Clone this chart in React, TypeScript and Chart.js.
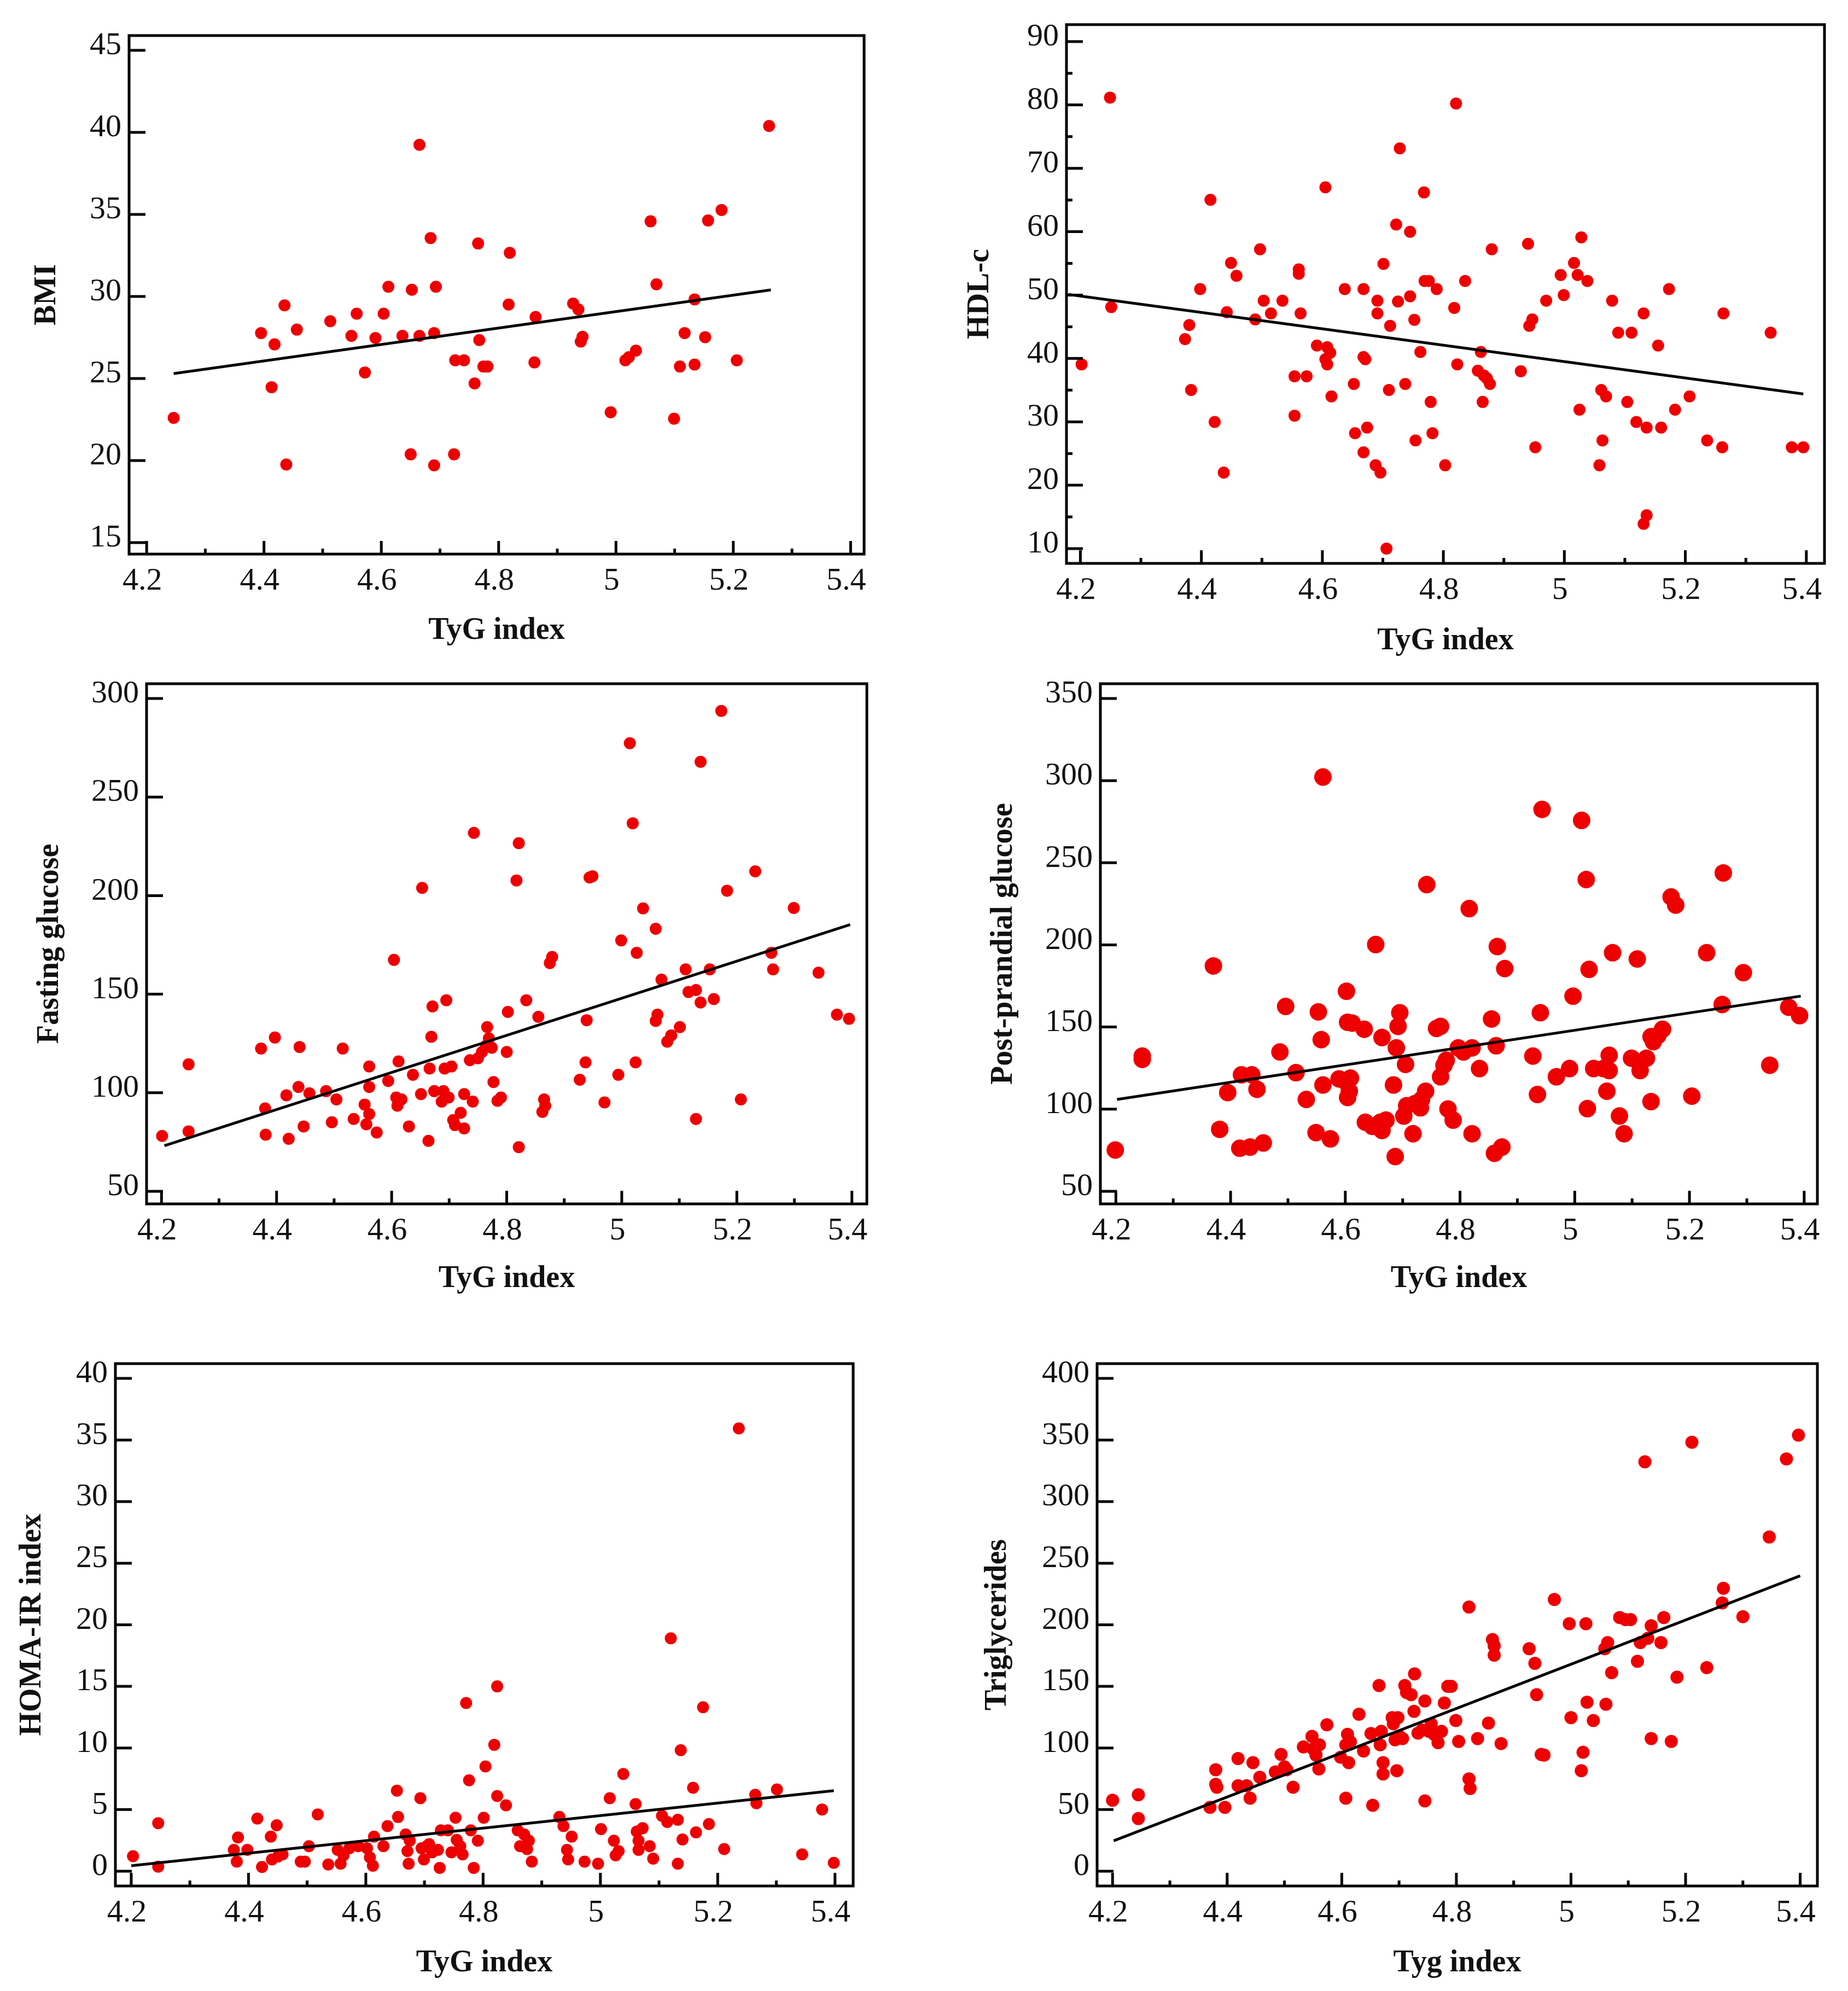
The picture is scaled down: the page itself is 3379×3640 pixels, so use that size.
import React, { useEffect, useRef } from "react";
import { Chart, registerables } from "chart.js";

Chart.register(...registerables);

// ---------- shared axis values ----------
const xMajorTicks = [4.2, 4.4, 4.6, 4.8, 5, 5.2, 5.4];
const xMinorTicks = [4.3, 4.5, 4.7, 4.9, 5.1, 5.3];

// ---------- BMI ----------
const bmiTicks = [15, 20, 25, 30, 35, 40, 45];
const bmiX = [4.246, 4.395, 4.418, 4.435, 4.413, 4.438, 4.456, 4.513, 4.549, 4.558, 4.572, 4.59, 4.604, 4.612, 4.636, 4.652, 4.665, 4.665, 4.65, 4.684, 4.693, 4.69, 4.69, 4.724, 4.726, 4.741, 4.759, 4.765, 4.767, 4.774, 4.781, 4.819, 4.817, 4.863, 4.861, 4.927, 4.936, 4.943, 4.94, 4.991, 5.016, 5.022, 5.034, 5.059, 5.069, 5.099, 5.109, 5.117, 5.134, 5.134, 5.152, 5.157, 5.18, 5.206, 5.261];
const bmiY = [22.6, 27.77, 27.08, 29.46, 24.47, 19.76, 27.98, 28.49, 27.6, 28.95, 25.37, 27.47, 28.95, 30.59, 27.6, 30.41, 39.24, 27.6, 20.38, 33.56, 30.59, 27.77, 19.71, 20.38, 26.11, 26.11, 24.7, 33.23, 27.34, 25.73, 25.73, 32.66, 29.51, 28.75, 25.98, 29.57, 29.21, 27.54, 27.25, 22.94, 26.11, 26.3, 26.7, 34.58, 30.74, 22.55, 25.73, 27.77, 29.82, 25.85, 27.52, 34.63, 35.27, 26.11, 40.39];
const bmiFitX = [4.246, 5.264];
const bmiFitY = [25.3, 30.4];

// ---------- HDL-c ----------
const hdlTicks = [10, 20, 30, 40, 50, 60, 70, 80, 90];
const hdlMinorTicks = [15, 25, 35, 45, 55, 65, 75, 85];
const hdlX = [4.202, 4.249, 4.251, 4.373, 4.38, 4.383, 4.398, 4.415, 4.422, 4.437, 4.442, 4.449, 4.458, 4.489, 4.497, 4.503, 4.515, 4.534, 4.554, 4.554, 4.561, 4.561, 4.564, 4.574, 4.591, 4.605, 4.608, 4.605, 4.608, 4.613, 4.615, 4.637, 4.652, 4.654, 4.668, 4.671, 4.668, 4.668, 4.674, 4.691, 4.691, 4.688, 4.696, 4.701, 4.706, 4.712, 4.71, 4.722, 4.725, 4.728, 4.737, 4.745, 4.745, 4.752, 4.754, 4.762, 4.768, 4.769, 4.776, 4.779, 4.782, 4.789, 4.803, 4.818, 4.821, 4.823, 4.836, 4.857, 4.862, 4.865, 4.867, 4.872, 4.877, 4.88, 4.928, 4.94, 4.942, 4.947, 4.952, 4.97, 4.994, 4.999, 5.016, 5.022, 5.025, 5.028, 5.038, 5.061, 5.063, 5.058, 5.069, 5.079, 5.089, 5.104, 5.111, 5.119, 5.131, 5.131, 5.136, 5.136, 5.155, 5.16, 5.173, 5.183, 5.207, 5.236, 5.261, 5.263, 5.341, 5.376, 5.395];
const hdlY = [39.07, 81.16, 48.11, 43.05, 45.28, 35.03, 50.94, 65.04, 29.97, 22.0, 47.3, 55.06, 53.04, 46.16, 57.22, 49.12, 47.1, 49.12, 30.98, 37.18, 53.37, 54.05, 47.1, 37.18, 42.04, 67.0, 41.77, 39.88, 39.07, 40.89, 34.01, 50.94, 35.97, 28.21, 40.22, 39.88, 50.94, 25.18, 29.09, 49.12, 47.1, 23.15, 22.0, 54.92, 10.0, 45.14, 35.03, 61.13, 48.99, 73.14, 35.97, 49.8, 59.98, 46.09, 27.07, 41.03, 66.19, 52.23, 52.23, 33.14, 28.21, 50.94, 23.15, 47.98, 80.22, 39.07, 52.23, 38.06, 41.03, 33.14, 37.32, 36.85, 35.97, 57.22, 37.99, 58.09, 45.14, 46.16, 25.99, 49.12, 53.17, 50.0, 55.06, 53.17, 31.92, 59.11, 52.23, 35.03, 27.07, 23.15, 34.01, 49.12, 44.06, 33.14, 44.06, 29.97, 47.1, 13.91, 15.26, 29.09, 42.04, 29.09, 50.94, 31.92, 34.01, 27.07, 25.99, 47.1, 44.06, 25.99, 25.99];
const hdlFitX = [4.18, 5.395];
const hdlFitY = [50.1, 34.4];

// ---------- Fasting glucose ----------
const fgTicks = [50, 100, 150, 200, 250, 300];
const fgX = [4.201, 4.247, 4.247, 4.373, 4.38, 4.381, 4.397, 4.417, 4.421, 4.438, 4.44, 4.447, 4.457, 4.486, 4.496, 4.504, 4.515, 4.534, 4.553, 4.556, 4.561, 4.561, 4.561, 4.574, 4.594, 4.604, 4.608, 4.61, 4.612, 4.617, 4.63, 4.637, 4.651, 4.653, 4.664, 4.666, 4.669, 4.671, 4.674, 4.687, 4.69, 4.692, 4.695, 4.699, 4.704, 4.707, 4.71, 4.72, 4.726, 4.726, 4.736, 4.741, 4.743, 4.75, 4.757, 4.764, 4.766, 4.769, 4.774, 4.777, 4.784, 4.79, 4.8, 4.802, 4.817, 4.821, 4.821, 4.834, 4.855, 4.862, 4.865, 4.867, 4.875, 4.879, 4.927, 4.937, 4.939, 4.944, 4.949, 4.97, 4.994, 4.999, 5.014, 5.019, 5.024, 5.026, 5.037, 5.059, 5.059, 5.062, 5.069, 5.079, 5.086, 5.101, 5.111, 5.116, 5.129, 5.129, 5.137, 5.137, 5.153, 5.16, 5.173, 5.183, 5.207, 5.232, 5.26, 5.263, 5.299, 5.342, 5.374, 5.395];
const fgY = [78.1, 114.4, 80.4, 122.4, 92.0, 78.7, 128.0, 98.7, 76.6, 102.9, 123.2, 82.9, 99.7, 100.8, 85.0, 96.6, 122.4, 86.7, 94.0, 84.0, 89.2, 102.9, 113.3, 79.8, 106.0, 167.4, 97.6, 93.4, 115.9, 96.6, 82.9, 109.1, 99.3, 203.9, 75.6, 112.3, 128.4, 143.8, 100.8, 95.5, 100.8, 112.3, 146.9, 97.6, 113.3, 86.1, 83.6, 89.8, 81.9, 99.3, 116.5, 95.5, 231.8, 117.5, 120.7, 123.8, 133.3, 127.6, 122.8, 105.4, 95.9, 97.6, 120.7, 141.0, 207.7, 226.6, 72.4, 146.9, 138.5, 90.3, 96.6, 93.4, 165.8, 168.9, 106.6, 115.4, 136.8, 209.2, 209.8, 95.1, 109.1, 177.3, 277.3, 236.7, 115.4, 171.0, 193.5, 183.2, 136.4, 139.6, 157.4, 125.9, 129.1, 133.3, 162.6, 151.1, 152.1, 86.7, 267.9, 145.8, 162.6, 147.5, 293.7, 202.5, 96.6, 212.3, 171.0, 162.6, 193.7, 160.9, 139.6, 137.5];
const fgFitX = [4.205, 5.397];
const fgFitY = [73.1, 185.3];

// ---------- Post-prandial glucose ----------
const ppgTicks = [50, 100, 150, 200, 250, 300, 350];
const ppgX = [4.199, 4.246, 4.246, 4.37, 4.381, 4.395, 4.416, 4.419, 4.434, 4.437, 4.446, 4.457, 4.486, 4.496, 4.514, 4.532, 4.549, 4.553, 4.558, 4.561, 4.561, 4.574, 4.589, 4.599, 4.602, 4.604, 4.604, 4.607, 4.609, 4.612, 4.633, 4.635, 4.647, 4.653, 4.661, 4.664, 4.664, 4.671, 4.684, 4.687, 4.689, 4.692, 4.695, 4.702, 4.705, 4.707, 4.718, 4.721, 4.731, 4.733, 4.74, 4.742, 4.759, 4.766, 4.766, 4.772, 4.776, 4.779, 4.788, 4.797, 4.806, 4.816, 4.821, 4.821, 4.834, 4.855, 4.86, 4.863, 4.865, 4.873, 4.878, 4.927, 4.935, 4.94, 4.943, 4.968, 4.991, 4.997, 5.012, 5.02, 5.022, 5.025, 5.033, 5.05, 5.056, 5.06, 5.06, 5.066, 5.078, 5.086, 5.099, 5.109, 5.114, 5.125, 5.133, 5.133, 5.137, 5.145, 5.153, 5.168, 5.176, 5.204, 5.23, 5.257, 5.259, 5.294, 5.34, 5.373, 5.392];
const ppgY = [75.1, 132.3, 130.3, 187.2, 87.7, 110.1, 76.2, 120.9, 76.9, 120.9, 112.1, 79.4, 134.8, 162.5, 122.2, 105.9, 85.7, 159.2, 142.3, 302.2, 114.7, 81.9, 118.4, 117.2, 171.8, 152.9, 107.1, 110.9, 118.9, 152.4, 148.6, 92.0, 89.5, 200.2, 92.0, 87.0, 143.6, 93.3, 114.7, 71.1, 137.3, 150.4, 158.7, 95.8, 127.2, 102.1, 85.0, 103.3, 100.8, 105.9, 110.9, 236.7, 149.1, 119.7, 150.4, 126.7, 129.8, 100.1, 93.3, 137.3, 134.8, 222.1, 85.0, 137.3, 124.7, 154.9, 73.1, 138.6, 199.0, 76.9, 185.6, 132.3, 108.9, 158.7, 282.5, 119.7, 124.7, 168.8, 275.8, 239.8, 100.3, 185.1, 124.7, 124.7, 110.9, 132.8, 123.5, 195.2, 95.8, 85.0, 131.0, 191.4, 123.5, 131.0, 104.6, 144.1, 141.1, 144.9, 148.6, 229.2, 224.2, 107.9, 195.2, 163.7, 243.8, 183.1, 126.7, 162.0, 156.9];
const ppgFitX = [4.202, 5.394];
const ppgFitY = [105.9, 168.8];

// ---------- HOMA-IR index ----------
const homaTicks = [0, 5, 10, 15, 20, 25, 30, 35, 40];
const homaX = [4.203, 4.246, 4.246, 4.375, 4.38, 4.382, 4.398, 4.415, 4.423, 4.438, 4.44, 4.448, 4.45, 4.458, 4.489, 4.496, 4.503, 4.518, 4.536, 4.552, 4.557, 4.562, 4.572, 4.587, 4.602, 4.607, 4.612, 4.614, 4.63, 4.637, 4.653, 4.655, 4.668, 4.671, 4.673, 4.675, 4.693, 4.695, 4.699, 4.704, 4.708, 4.713, 4.723, 4.726, 4.728, 4.74, 4.746, 4.753, 4.755, 4.761, 4.765, 4.771, 4.776, 4.779, 4.784, 4.791, 4.801, 4.804, 4.819, 4.824, 4.824, 4.839, 4.859, 4.863, 4.87, 4.875, 4.878, 4.883, 4.93, 4.937, 4.943, 4.945, 4.951, 4.973, 4.996, 5.001, 5.016, 5.023, 5.026, 5.031, 5.039, 5.06, 5.062, 5.065, 5.065, 5.072, 5.084, 5.09, 5.105, 5.114, 5.12, 5.132, 5.132, 5.137, 5.14, 5.158, 5.163, 5.175, 5.185, 5.211, 5.236, 5.264, 5.266, 5.301, 5.344, 5.378, 5.398];
const homaY = [1.22, 3.9, 0.37, 1.73, 0.78, 2.74, 1.73, 4.27, 0.34, 2.81, 0.95, 3.73, 1.19, 1.36, 0.78, 0.78, 2.03, 4.61, 0.54, 1.73, 0.61, 1.29, 1.86, 2.03, 1.86, 1.12, 0.44, 2.81, 2.03, 3.66, 6.54, 4.4, 2.98, 1.63, 0.61, 2.47, 5.93, 1.86, 0.95, 2.03, 2.2, 1.53, 1.73, 0.27, 3.32, 3.32, 1.53, 4.34, 2.54, 2.03, 1.36, 13.65, 7.38, 3.32, 0.27, 2.47, 4.34, 8.5, 10.26, 15.0, 6.1, 5.35, 3.32, 2.03, 2.98, 1.8, 2.47, 0.78, 4.4, 3.66, 1.73, 0.95, 2.81, 0.78, 0.61, 3.42, 5.93, 2.47, 1.29, 1.63, 7.89, 5.45, 3.22, 2.47, 1.73, 3.49, 2.03, 1.02, 4.5, 4.0, 18.9, 4.17, 0.61, 9.82, 2.57, 6.77, 3.15, 13.31, 3.83, 1.8, 35.94, 6.2, 5.52, 6.64, 1.36, 5.01, 0.68];
const homaFitX = [4.2, 5.398];
const homaFitY = [0.44, 6.54];

// ---------- Triglycerides ----------
const tgTicks = [0, 50, 100, 150, 200, 250, 300, 350, 400];
const tgX = [4.2, 4.245, 4.245, 4.37, 4.38, 4.38, 4.382, 4.396, 4.419, 4.419, 4.434, 4.44, 4.445, 4.457, 4.484, 4.494, 4.5, 4.504, 4.515, 4.533, 4.548, 4.55, 4.555, 4.56, 4.561, 4.574, 4.598, 4.607, 4.607, 4.61, 4.612, 4.615, 4.63, 4.638, 4.651, 4.654, 4.665, 4.667, 4.669, 4.672, 4.672, 4.688, 4.69, 4.693, 4.696, 4.698, 4.701, 4.706, 4.71, 4.713, 4.721, 4.726, 4.727, 4.733, 4.74, 4.745, 4.745, 4.752, 4.756, 4.761, 4.768, 4.774, 4.779, 4.785, 4.791, 4.799, 4.804, 4.822, 4.822, 4.824, 4.837, 4.856, 4.863, 4.866, 4.866, 4.878, 4.927, 4.937, 4.94, 4.948, 4.953, 4.971, 4.997, 5.0, 5.018, 5.021, 5.026, 5.028, 5.039, 5.059, 5.061, 5.064, 5.071, 5.085, 5.095, 5.104, 5.116, 5.121, 5.129, 5.134, 5.14, 5.14, 5.157, 5.162, 5.175, 5.185, 5.211, 5.237, 5.264, 5.266, 5.3, 5.346, 5.376, 5.397];
const tgY = [57.6, 62.0, 42.7, 51.8, 82.3, 70.5, 68.1, 51.8, 91.4, 69.4, 69.4, 59.3, 88.1, 76.2, 80.6, 94.8, 84.7, 82.3, 68.1, 100.9, 109.4, 99.2, 94.2, 83.0, 102.6, 118.9, 92.5, 59.3, 102.6, 111.1, 88.1, 105.0, 127.4, 97.5, 111.8, 53.5, 150.7, 102.6, 113.5, 88.1, 78.9, 124.6, 119.6, 106.7, 81.6, 124.6, 109.4, 107.7, 150.7, 145.0, 143.3, 129.7, 160.2, 112.1, 114.5, 138.2, 57.0, 113.5, 119.6, 111.1, 104.3, 113.5, 136.5, 150.0, 150.0, 122.3, 105.3, 74.9, 214.4, 67.1, 107.7, 120.2, 188.0, 182.9, 175.4, 103.6, 180.6, 168.7, 143.3, 94.8, 94.2, 220.5, 200.9, 124.6, 81.6, 96.5, 200.9, 137.2, 122.3, 180.6, 135.5, 185.6, 161.2, 205.9, 204.2, 204.2, 170.4, 185.6, 332.3, 189.0, 107.7, 199.2, 185.6, 205.9, 105.3, 157.5, 348.2, 165.3, 217.8, 229.6, 206.6, 271.3, 334.6, 353.9];
const tgFitX = [4.202, 5.4];
const tgFitY = [24.7, 239.8];

// ---------- layout (pixel geometry, separate from data) ----------
const RED = "#ee0000";
const FONT = "'Liberation Serif', 'Times New Roman', serif";
const TICK_SIZE = 58;
const TITLE_SIZE = 56;

type Spec = {
  xs: number[]; ys: number[]; fitX: number[]; fitY: number[];
  yTicks: number[]; yMinor: number[];
  yTitle: string; xTitle: string;
  xRange: [number, number]; yRange: [number, number];
  canvas: [number, number, number, number];
  box: [number, number, number, number];
  yTitleX: number; xTitleY: number; radius: number;
};

const specs: Spec[] = [
  { xs: bmiX, ys: bmiY, fitX: bmiFitX, fitY: bmiFitY, yTicks: bmiTicks, yMinor: [], yTitle: "BMI", xTitle: "TyG index",
    xRange: [4.17, 5.423], yRange: [14.3, 45.9], canvas: [0, 0, 1690, 1220], box: [236, 65, 1580, 1013], yTitleX: 87, xTitleY: 1154, radius: 11 },
  { xs: hdlX, ys: hdlY, fitX: hdlFitX, fitY: hdlFitY, yTicks: hdlTicks, yMinor: hdlMinorTicks, yTitle: "HDL-c", xTitle: "TyG index",
    xRange: [4.177, 5.43], yRange: [7.67, 92.67], canvas: [1690, 0, 1689, 1220], box: [1950, 45, 3336, 1030], yTitleX: 1793, xTitleY: 1173, radius: 11 },
  { xs: fgX, ys: fgY, fitX: fgFitX, fitY: fgFitY, yTicks: fgTicks, yMinor: [], yTitle: "Fasting glucose", xTitle: "TyG index",
    xRange: [4.174, 5.426], yRange: [43.6, 307.5], canvas: [0, 1220, 1690, 1230], box: [268, 1250, 1585, 2201], yTitleX: 92, xTitleY: 2339, radius: 11 },
  { xs: ppgX, ys: ppgY, fitX: ppgFitX, fitY: ppgFitY, yTicks: ppgTicks, yMinor: [], yTitle: "Post-prandial glucose", xTitle: "TyG index",
    xRange: [4.173, 5.423], yRange: [42.3, 359], canvas: [1690, 1220, 1689, 1230], box: [2012, 1250, 3323, 2201], yTitleX: 1836, xTitleY: 2339, radius: 16 },
  { xs: homaX, ys: homaY, fitX: homaFitX, fitY: homaFitY, yTicks: homaTicks, yMinor: [], yTitle: "HOMA-IR index", xTitle: "TyG index",
    xRange: [4.173, 5.431], yRange: [-1.2, 41.2], canvas: [0, 2450, 1690, 1190], box: [211, 2493, 1560, 3448], yTitleX: 60, xTitleY: 3590, radius: 11 },
  { xs: tgX, ys: tgY, fitX: tgFitX, fitY: tgFitY, yTicks: tgTicks, yMinor: [], yTitle: "Triglycerides", xTitle: "Tyg index",
    xRange: [4.173, 5.43], yRange: [-12, 412], canvas: [1690, 2450, 1689, 1190], box: [2006, 2493, 3323, 3448], yTitleX: 1825, xTitleY: 3590, radius: 12 },
];

// Inward ticks + frame, positioned through the chart's own scales
const frameTicks = {
  id: "frameTicks",
  afterDatasetsDraw(chart: any, _args: any, opts: any) {
    const { ctx, chartArea: a, scales } = chart;
    const xs = scales.x;
    const ys = scales.y;
    ctx.save();
    ctx.strokeStyle = "#000";
    ctx.lineCap = "butt";
    ctx.lineWidth = 5;
    ctx.beginPath();
    for (const v of opts.xMajor) {
      const p = xs.getPixelForValue(v);
      ctx.moveTo(p, a.bottom);
      ctx.lineTo(p, a.bottom - 24);
    }
    for (const v of opts.xMinor) {
      const p = xs.getPixelForValue(v);
      ctx.moveTo(p, a.bottom);
      ctx.lineTo(p, a.bottom - 10);
    }
    for (const v of opts.yMajor) {
      const p = ys.getPixelForValue(v);
      ctx.moveTo(a.left, p);
      ctx.lineTo(a.left + 30, p);
    }
    for (const v of opts.yMinor) {
      const p = ys.getPixelForValue(v);
      ctx.moveTo(a.left, p);
      ctx.lineTo(a.left + 11, p);
    }
    ctx.stroke();
    ctx.lineWidth = 5;
    ctx.strokeRect(a.left, a.top, a.right - a.left, a.bottom - a.top);
    ctx.restore();
  },
};

function Panel({ spec }: { spec: Spec }) {
  const ref = useRef<HTMLCanvasElement | null>(null);
  const [cx, cy, cw, ch] = spec.canvas;
  useEffect(() => {
    if (!ref.current) return;
    const [L, T, R, B] = spec.box;
    const lh = TITLE_SIZE * 1.2;
    const chart = new Chart(ref.current, {
      type: "scatter",
      data: {
        datasets: [
          {
            type: "line",
            data: spec.fitX.map((x, i) => ({ x, y: spec.fitY[i] })),
            borderColor: "#000",
            borderWidth: 5,
            pointRadius: 0,
            fill: false,
            order: 0,
          } as any,
          {
            type: "scatter",
            data: spec.xs.map((x, i) => ({ x, y: spec.ys[i] })),
            backgroundColor: RED,
            borderColor: RED,
            borderWidth: 0,
            pointRadius: spec.radius,
            pointStyle: "circle",
            order: 1,
          } as any,
        ],
      },
      options: {
        animation: false,
        responsive: false,
        maintainAspectRatio: false,
        devicePixelRatio: 1,
        layout: { padding: { left: 0, bottom: 0, top: T - cy, right: cx + cw - R } },
        plugins: {
          legend: { display: false },
          tooltip: { enabled: false },
          frameTicks: { xMajor: xMajorTicks, xMinor: xMinorTicks, yMajor: spec.yTicks, yMinor: spec.yMinor },
        } as any,
        scales: {
          x: {
            type: "linear",
            min: spec.xRange[0],
            max: spec.xRange[1],
            afterBuildTicks: (s: any) => { s.ticks = xMajorTicks.map((v) => ({ value: v })); },
            afterFit: (s: any) => { s.height = cy + ch - B; s.paddingLeft = 0; s.paddingRight = 0; },
            ticks: {
              callback: (v: any) => String(v),
              font: { family: FONT, size: TICK_SIZE },
              color: "#111",
              padding: 15,
              labelOffset: -8,
              maxRotation: 0,
              minRotation: 0,
              autoSkip: false,
            },
            grid: { display: false, drawTicks: false },
            border: { display: false },
            title: {
              display: true,
              text: spec.xTitle,
              font: { family: FONT, size: TITLE_SIZE, weight: "bold" },
              color: "#111",
              padding: { top: 0, bottom: ch - (spec.xTitleY - cy) - lh / 2 },
            },
          },
          y: {
            type: "linear",
            min: spec.yRange[0],
            max: spec.yRange[1],
            afterBuildTicks: (s: any) => { s.ticks = spec.yTicks.map((v) => ({ value: v })); },
            afterFit: (s: any) => { s.width = L - cx; s.paddingTop = 0; s.paddingBottom = 0; },
            ticks: {
              callback: (v: any) => String(v),
              font: { family: FONT, size: TICK_SIZE },
              color: "#111",
              padding: 14,
              labelOffset: -8,
              autoSkip: false,
            },
            grid: { display: false, drawTicks: false },
            border: { display: false },
            title: {
              display: true,
              text: spec.yTitle,
              font: { family: FONT, size: TITLE_SIZE, weight: "bold" },
              color: "#111",
              padding: { top: spec.yTitleX - cx - lh / 2, bottom: 0 },
            },
          },
        },
      },
      plugins: [frameTicks as any],
    });
    return () => chart.destroy();
  }, [spec]);
  return (
    <canvas
      ref={ref}
      width={cw}
      height={ch}
      style={{ position: "absolute", left: cx, top: cy, width: cw, height: ch }}
    />
  );
}

export default function App() {
  return (
    <div style={{ position: "absolute", left: 0, top: 0, width: 3379, height: 3640, background: "#fff" }}>
      {specs.map((s, i) => (
        <Panel key={i} spec={s} />
      ))}
    </div>
  );
}
